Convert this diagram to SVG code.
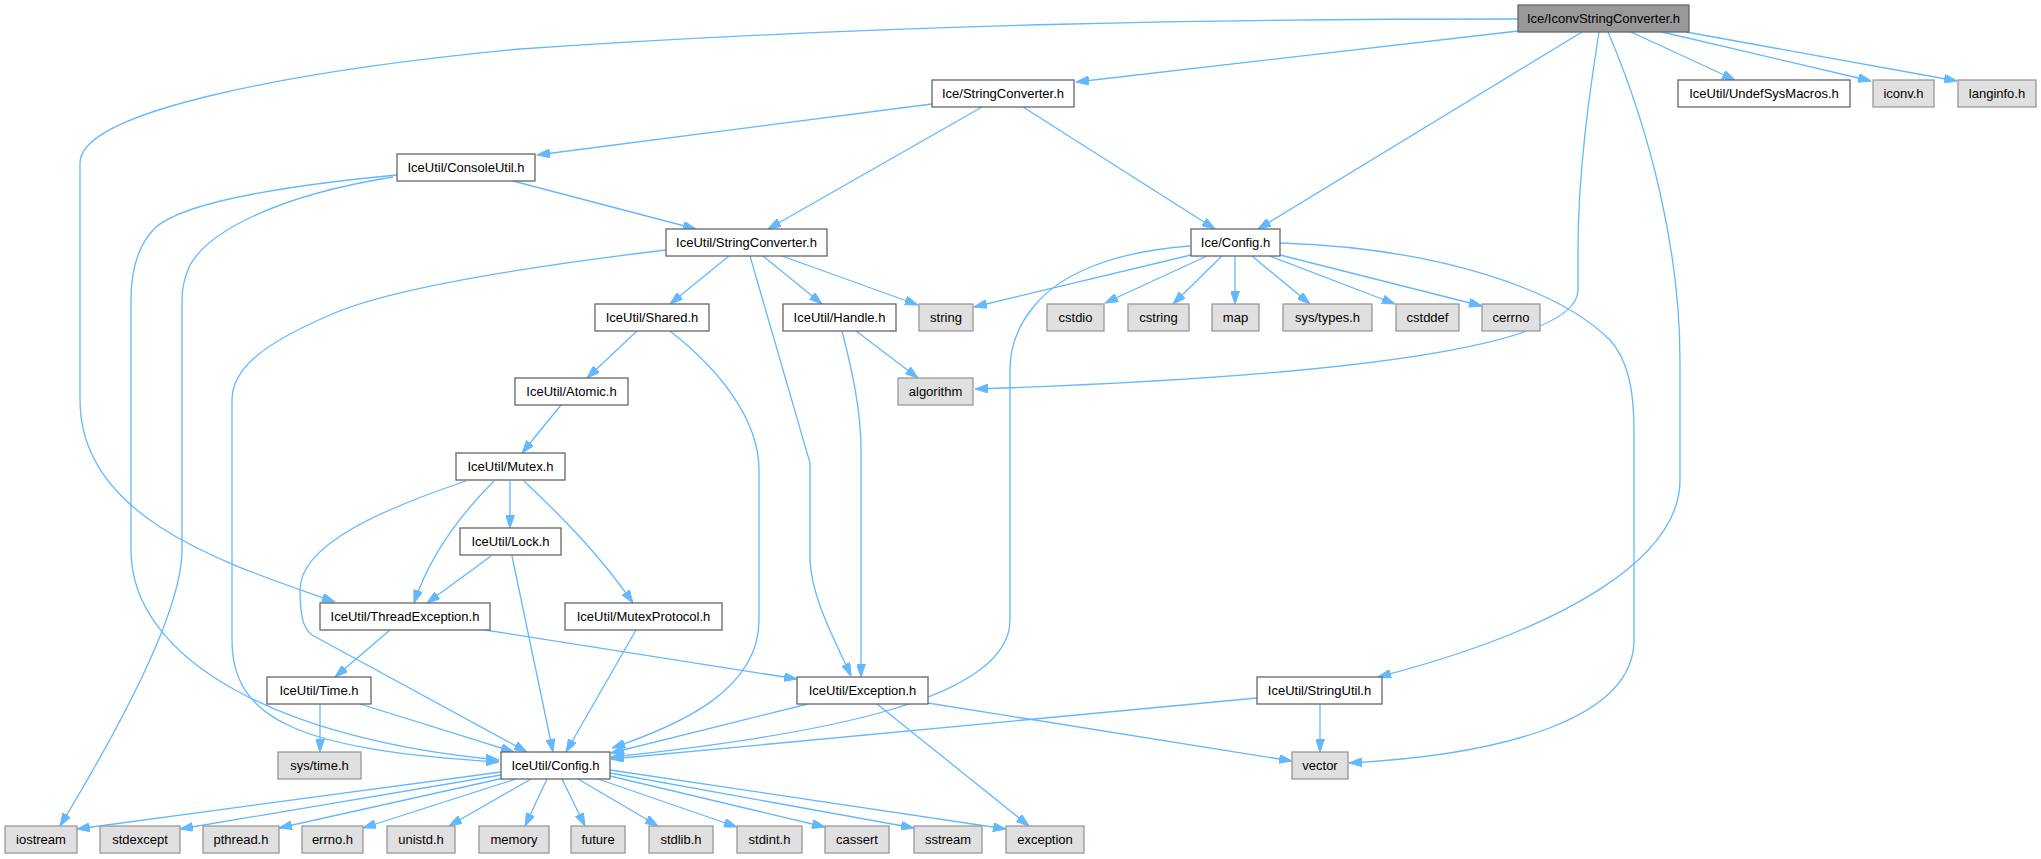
<svg xmlns="http://www.w3.org/2000/svg" width="2041" height="859" viewBox="0 0 2041 859">
<style>
.n rect{fill:#ffffff;stroke:#666666;stroke-width:1.3}
.x rect{fill:#e0e0e0;stroke:#999999;stroke-width:1.3}
.r rect{fill:#999999;stroke:#666666;stroke-width:1.3}
text{font-family:"Liberation Sans",Arial,sans-serif;font-size:13px;fill:#000000;text-anchor:middle}
#edges path{fill:none;stroke:#63b8ff;stroke-width:1.3;marker-end:url(#a)}
</style>
<defs>
<marker id="a" markerWidth="13" markerHeight="9" refX="13" refY="4.5" orient="auto" markerUnits="userSpaceOnUse"><path d="M0,0 L13,4.5 L0,9 z" fill="#63b8ff" stroke="#63b8ff" stroke-width="1"/></marker>
</defs>
<rect width="2041" height="859" fill="#ffffff"/>
<g id="edges">
<path d="M1518,19 C1250,19 900,23 520,49 C300,70 80,110 80,163 L80,400 C80,520 230,565 335,602"/>
<path d="M1518,31 L1076,82"/>
<path d="M1582,32 L1258,229"/>
<path d="M1599,32 C1590,90 1578,170 1578,250 L1578,290 C1578,340 1400,375 975,389"/>
<path d="M1608,32 C1650,130 1680,250 1680,360 L1680,480 C1680,560 1560,630 1378,677"/>
<path d="M1631,32 L1735,80"/>
<path d="M1662,32 L1871,81"/>
<path d="M1686,32 L1957,81"/>
<path d="M932,104 L537,155"/>
<path d="M982,107 L768,229"/>
<path d="M1023,107 L1215,229"/>
<path d="M513,181 L696,229"/>
<path d="M393,177 C280,195 210,230 190,265 C184,278 182,290 182,300 L182,550 C182,620 100,760 60,826"/>
<path d="M397,175 C260,188 180,205 155,228 C138,245 131,270 131,300 L131,550 C131,660 280,740 499,760"/>
<path d="M666,250 C500,270 380,292 330,315 C260,345 232,370 232,400 L232,640 C232,720 300,750 499,762"/>
<path d="M729,256 L670,304"/>
<path d="M750,256 L810,463 L810,560 C812,600 835,640 851,676"/>
<path d="M763,256 L822,304"/>
<path d="M782,256 L918,305"/>
<path d="M1191,255 L974,307"/>
<path d="M1190,246 C1110,252 1060,275 1035,305 C1018,325 1010,345 1010,370 L1010,620 C1010,700 820,735 611,757"/>
<path d="M1207,256 L1105,303"/>
<path d="M1222,256 L1173,304"/>
<path d="M1235,256 L1235,304"/>
<path d="M1252,256 L1310,304"/>
<path d="M1270,256 L1395,304"/>
<path d="M1280,255 L1482,306"/>
<path d="M1280,243 C1440,248 1560,290 1610,340 C1628,360 1634,390 1634,430 L1634,640 C1634,720 1500,755 1349,763"/>
<path d="M637,331 L587,378"/>
<path d="M670,331 C720,370 759,420 759,470 L759,620 C759,690 680,725 612,748"/>
<path d="M856,331 L918,378"/>
<path d="M842,331 C852,370 861,410 861,450 L861,677"/>
<path d="M561,405 L522,453"/>
<path d="M510,481 L510,528"/>
<path d="M494,481 C460,515 430,555 414,603"/>
<path d="M466,481 C380,510 300,545 300,590 C300,620 305,630 312,635 L527,752"/>
<path d="M524,481 C560,515 600,555 633,603"/>
<path d="M491,556 L427,603"/>
<path d="M512,556 L553,752"/>
<path d="M390,630 L335,677"/>
<path d="M485,630 L797,679"/>
<path d="M636,630 L566,752"/>
<path d="M320,704 L320,752"/>
<path d="M360,704 L514,752"/>
<path d="M808,704 L611,753"/>
<path d="M928,703 L1292,761"/>
<path d="M877,704 L1029,826"/>
<path d="M1257,698 L611,759"/>
<path d="M1320,704 L1320,752"/>
<path d="M501,772 L77,829"/>
<path d="M501,775 L180,829"/>
<path d="M504,778 L279,828"/>
<path d="M516,779 L363,828"/>
<path d="M531,779 L449,826"/>
<path d="M547,779 L525,826"/>
<path d="M562,779 L585,826"/>
<path d="M578,779 L658,826"/>
<path d="M598,779 L737,827"/>
<path d="M610,776 L825,827"/>
<path d="M610,773 L914,828"/>
<path d="M610,770 L1006,829"/>
</g>
<g id="n0" class="r"><rect x="1518" y="5" width="171" height="27"/><text x="1603.5" y="23">Ice/IconvStringConverter.h</text></g>
<g id="n1" class="n"><rect x="932" y="80" width="142" height="27"/><text x="1003" y="98">Ice/StringConverter.h</text></g>
<g id="n2" class="n"><rect x="1678" y="80" width="172" height="27"/><text x="1764" y="98">IceUtil/UndefSysMacros.h</text></g>
<g id="n3" class="x"><rect x="1873" y="80" width="61" height="27"/><text x="1903.5" y="98">iconv.h</text></g>
<g id="n4" class="x"><rect x="1958" y="80" width="78" height="27"/><text x="1997" y="98">langinfo.h</text></g>
<g id="n5" class="n"><rect x="397" y="154" width="138" height="27"/><text x="466" y="172">IceUtil/ConsoleUtil.h</text></g>
<g id="n6" class="n"><rect x="666" y="229" width="161" height="27"/><text x="746.5" y="247">IceUtil/StringConverter.h</text></g>
<g id="n7" class="n"><rect x="1191" y="229" width="89" height="27"/><text x="1235.5" y="247">Ice/Config.h</text></g>
<g id="n8" class="n"><rect x="595" y="304" width="114" height="27"/><text x="652" y="322">IceUtil/Shared.h</text></g>
<g id="n9" class="n"><rect x="783" y="304" width="113" height="27"/><text x="839.5" y="322">IceUtil/Handle.h</text></g>
<g id="n10" class="x"><rect x="919" y="304" width="54" height="27"/><text x="946" y="322">string</text></g>
<g id="n11" class="x"><rect x="1047" y="304" width="57" height="27"/><text x="1075.5" y="322">cstdio</text></g>
<g id="n12" class="x"><rect x="1128" y="304" width="61" height="27"/><text x="1158.5" y="322">cstring</text></g>
<g id="n13" class="x"><rect x="1212" y="304" width="47" height="27"/><text x="1235.5" y="322">map</text></g>
<g id="n14" class="x"><rect x="1283" y="304" width="89" height="27"/><text x="1327.5" y="322">sys/types.h</text></g>
<g id="n15" class="x"><rect x="1396" y="304" width="63" height="27"/><text x="1427.5" y="322">cstddef</text></g>
<g id="n16" class="x"><rect x="1482" y="304" width="58" height="27"/><text x="1511" y="322">cerrno</text></g>
<g id="n17" class="n"><rect x="515" y="378" width="113" height="27"/><text x="571.5" y="396">IceUtil/Atomic.h</text></g>
<g id="n18" class="x"><rect x="898" y="378" width="75" height="27"/><text x="935.5" y="396">algorithm</text></g>
<g id="n19" class="n"><rect x="456" y="453" width="109" height="27"/><text x="510.5" y="471">IceUtil/Mutex.h</text></g>
<g id="n20" class="n"><rect x="460" y="528" width="101" height="27"/><text x="510.5" y="546">IceUtil/Lock.h</text></g>
<g id="n21" class="n"><rect x="320" y="603" width="170" height="27"/><text x="405" y="621">IceUtil/ThreadException.h</text></g>
<g id="n22" class="n"><rect x="565" y="603" width="157" height="27"/><text x="643.5" y="621">IceUtil/MutexProtocol.h</text></g>
<g id="n23" class="n"><rect x="267" y="677" width="104" height="27"/><text x="319" y="695">IceUtil/Time.h</text></g>
<g id="n24" class="n"><rect x="797" y="677" width="131" height="27"/><text x="862.5" y="695">IceUtil/Exception.h</text></g>
<g id="n25" class="n"><rect x="1257" y="677" width="125" height="27"/><text x="1319.5" y="695">IceUtil/StringUtil.h</text></g>
<g id="n26" class="x"><rect x="278" y="752" width="83" height="27"/><text x="319.5" y="770">sys/time.h</text></g>
<g id="n27" class="n"><rect x="501" y="752" width="109" height="27"/><text x="555.5" y="770">IceUtil/Config.h</text></g>
<g id="n28" class="x"><rect x="1292" y="752" width="56" height="27"/><text x="1320" y="770">vector</text></g>
<g id="n29" class="x"><rect x="5" y="826" width="72" height="27"/><text x="41" y="844">iostream</text></g>
<g id="n30" class="x"><rect x="100" y="826" width="80" height="27"/><text x="140" y="844">stdexcept</text></g>
<g id="n31" class="x"><rect x="203" y="826" width="76" height="27"/><text x="241" y="844">pthread.h</text></g>
<g id="n32" class="x"><rect x="302" y="826" width="61" height="27"/><text x="332.5" y="844">errno.h</text></g>
<g id="n33" class="x"><rect x="387" y="826" width="68" height="27"/><text x="421" y="844">unistd.h</text></g>
<g id="n34" class="x"><rect x="479" y="826" width="70" height="27"/><text x="514" y="844">memory</text></g>
<g id="n35" class="x"><rect x="571" y="826" width="54" height="27"/><text x="598" y="844">future</text></g>
<g id="n36" class="x"><rect x="649" y="826" width="64" height="27"/><text x="681" y="844">stdlib.h</text></g>
<g id="n37" class="x"><rect x="737" y="826" width="65" height="27"/><text x="769.5" y="844">stdint.h</text></g>
<g id="n38" class="x"><rect x="825" y="826" width="64" height="27"/><text x="857" y="844">cassert</text></g>
<g id="n39" class="x"><rect x="914" y="826" width="68" height="27"/><text x="948" y="844">sstream</text></g>
<g id="n40" class="x"><rect x="1006" y="826" width="78" height="27"/><text x="1045" y="844">exception</text></g>
</svg>
